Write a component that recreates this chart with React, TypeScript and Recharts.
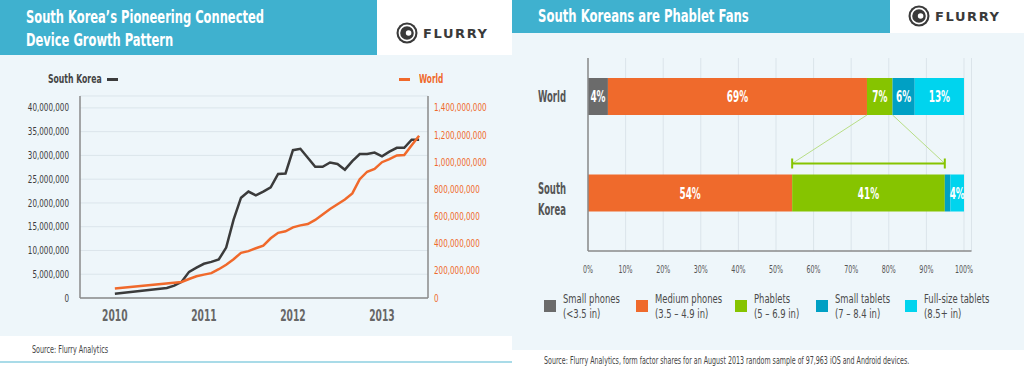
import React from "react";
import {
	LineChart,
	Line,
	XAxis,
	YAxis,
	CartesianGrid,
	BarChart,
	Bar,
	LabelList,
} from "recharts";

// ---- left chart: connected devices, month index from Jan 2010 ----
const skMonths = [0, 7, 8, 9, 10, 11, 12, 13, 14, 15, 16, 17, 18, 19, 20, 21, 22, 23, 24, 25, 26, 27, 28, 29, 30, 31, 32, 33, 34, 35, 36, 37, 38, 39, 40, 41];
const skDevices = [0.9, 2.1, 2.6, 3.4, 5.5, 6.4, 7.2, 7.6, 8.1, 10.6, 16.5, 21.1, 22.4, 21.6, 22.4, 23.3, 26.1, 26.2, 31.1, 31.4, 29.5, 27.6, 27.6, 28.5, 28.2, 27.0, 28.8, 30.3, 30.3, 30.6, 29.8, 30.8, 31.6, 31.6, 33.3, 33.3];
const worldMonths = [0, 9, 10, 11, 12, 13, 14, 15, 16, 17, 18, 19, 20, 21, 22, 23, 24, 25, 26, 27, 28, 29, 30, 31, 32, 33, 34, 35, 36, 37, 38, 39, 40, 41];
const worldDevices = [70, 118, 140, 160, 172, 183, 212, 245, 285, 333, 345, 366, 385, 440, 480, 491, 520, 535, 545, 575, 615, 655, 690, 725, 770, 875, 930, 950, 1000, 1023, 1050, 1053, 1125, 1195];
const yearTicks = [0, 12, 24, 36];
const yearLabels = ["2010", "2011", "2012", "2013"];
const leftTicks = [0, 5e6, 10e6, 15e6, 20e6, 25e6, 30e6, 35e6, 40e6];
const rightTicks = [0, 2e8, 4e8, 6e8, 8e8, 10e8, 12e8, 14e8];

// ---- right chart: form factor shares (%) ----
const regions = ["World", "South Korea"];
const smallPhones = [5.3, 0];
const mediumPhones = [68.9, 54.3];
const phablets = [6.8, 40.6];
const smallTablets = [5.9, 1.5];
const fullSizeTablets = [13.1, 3.6];
const smallPhoneLabels = ["4%", ""];
const mediumPhoneLabels = ["69%", "54%"];
const phabletLabels = ["7%", "41%"];
const smallTabletLabels = ["6%", ""];
const fullSizeLabels = ["13%", "4%"];
const shareTicks = [0, 10, 20, 30, 40, 50, 60, 70, 80, 90, 100];
const legendNames = ["Small phones", "Medium phones", "Phablets", "Small tablets", "Full-size tablets"];
const legendSizes = ["(<3.5 in)", "(3.5 – 4.9 in)", "(5 – 6.9 in)", "(7 – 8.4 in)", "(8.5+ in)"];

const FONT = '"DejaVu Sans Condensed", "DejaVu Sans", sans-serif';
const TEAL = "#3fb1cf";
const PANEL = "#eef6fa";
const SK_COLOR = "#3b3b3b";
const WORLD_COLOR = "#f0692b";
const SEGMENT_COLORS = ["#6b6b6b", "#ef6a2c", "#86c400", "#00a0c4", "#00d4ee"];

const skData = skMonths.map((month, i) => ({ month, value: skDevices[i] * 1e6 }));
const worldData = worldMonths.map((month, i) => ({ month, value: worldDevices[i] * 1e6 }));

const shareData = regions.map((region, i) => ({
	region,
	small: smallPhones[i],
	medium: mediumPhones[i],
	phablet: phablets[i],
	smallTab: smallTablets[i],
	fullTab: fullSizeTablets[i],
	smallLabel: smallPhoneLabels[i],
	mediumLabel: mediumPhoneLabels[i],
	phabletLabel: phabletLabels[i],
	smallTabLabel: smallTabletLabels[i],
	fullTabLabel: fullSizeLabels[i],
}));

const fmtNum = (v: number) => v.toLocaleString("en-US");

// the source font is a narrow DIN-like face, so DejaVu gets squeezed horizontally
function SqText({
	x,
	y,
	k,
	anchor = "start",
	fill,
	size,
	weight = 400,
	children,
}: {
	x: number;
	y: number;
	k: number;
	anchor?: string;
	fill: string;
	size: number;
	weight?: number;
	children: React.ReactNode;
}) {
	return (
		<text
			transform={`translate(${x},${y}) scale(${k},1)`}
			textAnchor={anchor}
			fill={fill}
			fontSize={size}
			fontWeight={weight}
			fontFamily={FONT}
		>
			{children}
		</text>
	);
}

function Squeeze({ k, style, children }: { k: number; style: React.CSSProperties; children: React.ReactNode }) {
	return (
		<div
			style={{
				position: "absolute",
				whiteSpace: "nowrap",
				transform: `scaleX(${k})`,
				transformOrigin: "0 0",
				fontFamily: FONT,
				...style,
			}}
		>
			{children}
		</div>
	);
}

const LeftTick = (props: any) => (
	<SqText x={props.x} y={props.y + 3.6} k={0.8} anchor="end" fill="#3c3c3c" size={10}>
		{fmtNum(props.payload.value)}
	</SqText>
);

const RightTick = (props: any) => (
	<SqText x={props.x} y={props.y + 3.6} k={0.8} anchor="start" fill="#ee6a2a" size={10}>
		{fmtNum(props.payload.value)}
	</SqText>
);

const YearTick = (props: any) => (
	<SqText x={props.x} y={props.y + 22.5} k={0.68} anchor="middle" fill="#666" size={15} weight={700}>
		{yearLabels[yearTicks.indexOf(props.payload.value)]}
	</SqText>
);

const ShareTick = (props: any) => (
	<SqText x={props.x} y={props.y + 22} k={0.64} anchor="middle" fill="#555" size={11}>
		{`${props.payload.value}%`}
	</SqText>
);

const RegionTick = (props: any) => {
	const { x, y, payload } = props;
	const words = String(payload.value).split(" ");
	if (words.length === 1) {
		return (
			<SqText x={x} y={y + 5.5} k={0.63} anchor="end" fill="#555" size={15} weight={700}>
				{words[0]}
			</SqText>
		);
	}
	return (
		<g>
			<SqText x={x} y={y + 1} k={0.63} anchor="end" fill="#555" size={15} weight={700}>
				{words[0]}
			</SqText>
			<SqText x={x} y={y + 22} k={0.63} anchor="end" fill="#555" size={15} weight={700}>
				{words[1]}
			</SqText>
		</g>
	);
};

const renderSegmentLabel = (props: any) => {
	const { x, y, width, height, value } = props;
	if (!value) return null;
	return (
		<SqText
			x={Number(x) + Number(width) / 2}
			y={Number(y) + Number(height) / 2 + 5.5}
			k={0.66}
			anchor="middle"
			fill="#fff"
			size={15}
			weight={700}
		>
			{value}
		</SqText>
	);
};

// world phablet geometry is kept so the South Korea bar can draw the bracket
const phabletGeom: { world?: { x: number; y: number; width: number; height: number } } = {};

const PhabletShape = (props: any) => {
	const { x, y, width, height, fill, payload } = props;
	const isWorld = payload && payload.region === "World";
	if (isWorld) phabletGeom.world = { x, y, width, height };
	const w = phabletGeom.world;
	const by = y - 11;
	return (
		<g>
			<rect x={x} y={y} width={width} height={height} fill={fill} />
			{!isWorld && w && (
				<g>
					<line x1={w.x} y1={w.y + w.height} x2={x} y2={by} stroke="#b8de86" strokeWidth={1} />
					<line x1={w.x + w.width} y1={w.y + w.height} x2={x + width} y2={by} stroke="#b8de86" strokeWidth={1} />
					<line x1={x} y1={by} x2={x + width} y2={by} stroke="#86c400" strokeWidth={2} />
					<line x1={x} y1={by - 5} x2={x} y2={by + 5} stroke="#86c400" strokeWidth={2} />
					<line x1={x + width} y1={by - 5} x2={x + width} y2={by + 5} stroke="#86c400" strokeWidth={2} />
				</g>
			)}
		</g>
	);
};

function FlurryLogo({ left, top }: { left: number; top: number }) {
	return (
		<div style={{ position: "absolute", left, top, display: "flex", alignItems: "center" }}>
			<svg width={22} height={22} viewBox="0 0 22 22">
				<circle cx={11} cy={11} r={10.5} fill="#3a3a3a" />
				<circle cx={11} cy={11} r={7.6} fill="none" stroke="#fff" strokeWidth={1.6} />
				<circle cx={11} cy={11} r={5} fill="#3a3a3a" />
				<circle cx={12.6} cy={11} r={2.8} fill="#fff" />
			</svg>
			<span
				style={{
					fontFamily: '"DejaVu Sans", sans-serif',
					fontWeight: 900,
					fontSize: 13,
					letterSpacing: 1.6,
					color: "#3a3a3a",
					marginLeft: 5,
				}}
			>
				FLURRY
			</span>
		</div>
	);
}

const titleStyle: React.CSSProperties = {
	color: "#fff",
	fontWeight: 700,
	fontSize: 18,
	lineHeight: "23px",
};

export default function App() {
	return (
		<div
			style={{
				position: "fixed",
				left: 0,
				top: 0,
				width: 1024,
				height: 367,
				overflow: "hidden",
				background: "#fff",
				fontFamily: FONT,
			}}
		>
			{/* left panel */}
			<div style={{ position: "absolute", left: 0, top: 0, width: 377, height: 55, background: TEAL }} />
			<div style={{ position: "absolute", left: 0, top: 55, width: 512, height: 281, background: PANEL }} />
			<Squeeze k={0.71} style={{ ...titleStyle, left: 26, top: 5 }}>
				South Korea’s Pioneering Connected
				<br />
				Device Growth Pattern
			</Squeeze>
			<FlurryLogo left={396} top={22} />
			<Squeeze k={0.66} style={{ left: 48, top: 71, fontSize: 13, lineHeight: "15px", fontWeight: 700, color: "#444" }}>
				South Korea
			</Squeeze>
			<div style={{ position: "absolute", left: 107, top: 78, width: 11, height: 3, background: SK_COLOR }} />
			<div style={{ position: "absolute", left: 399, top: 78, width: 11, height: 3, background: WORLD_COLOR }} />
			<Squeeze k={0.63} style={{ left: 419, top: 71, fontSize: 13, lineHeight: "15px", fontWeight: 700, color: WORLD_COLOR }}>
				World
			</Squeeze>
			<div style={{ position: "absolute", left: 0, top: 0 }}>
				<LineChart width={512} height={336} margin={{ top: 96, right: 0, bottom: 8, left: 0 }}>
					<CartesianGrid yAxisId="left" vertical={false} stroke="#dbe5eb" strokeWidth={1} />
					<XAxis
						type="number"
						dataKey="month"
						domain={[-4.7, 42.2]}
						allowDataOverflow
						ticks={yearTicks}
						axisLine={{ stroke: "#8a8a8a", strokeWidth: 1.5 }}
						tickLine={false}
						tickSize={0}
						tickMargin={0}
						height={30}
						tick={<YearTick />}
					/>
					<YAxis
						yAxisId="left"
						domain={[0, 42.5e6]}
						allowDataOverflow
						ticks={leftTicks}
						width={80}
						axisLine={{ stroke: "#8a8a8a", strokeWidth: 1.5 }}
						tickLine={false}
						tickSize={0}
						tickMargin={11}
						tick={<LeftTick />}
					/>
					<YAxis
						yAxisId="right"
						orientation="right"
						domain={[0, 1487.5e6]}
						allowDataOverflow
						ticks={rightTicks}
						width={84}
						axisLine={{ stroke: "#8a8a8a", strokeWidth: 1.5 }}
						tickLine={false}
						tickSize={0}
						tickMargin={6}
						tick={<RightTick />}
					/>
					<Line
						yAxisId="left"
						data={skData}
						dataKey="value"
						type="linear"
						stroke={SK_COLOR}
						strokeWidth={2.5}
						dot={false}
						isAnimationActive={false}
					/>
					<Line
						yAxisId="right"
						data={worldData}
						dataKey="value"
						type="linear"
						stroke={WORLD_COLOR}
						strokeWidth={2.5}
						dot={false}
						isAnimationActive={false}
					/>
				</LineChart>
			</div>
			<Squeeze k={0.65} style={{ left: 32, top: 343, fontSize: 11, lineHeight: "13px", color: "#444" }}>
				Source: Flurry Analytics
			</Squeeze>
			<div style={{ position: "absolute", left: 0, top: 361, width: 512, height: 2, background: "#a9dbe8" }} />

			{/* right panel */}
			<div style={{ position: "absolute", left: 512, top: 0, width: 378, height: 33, background: TEAL }} />
			<div style={{ position: "absolute", left: 512, top: 33, width: 512, height: 317, background: PANEL }} />
			<Squeeze k={0.72} style={{ ...titleStyle, left: 538, top: 4 }}>
				South Koreans are Phablet Fans
			</Squeeze>
			<FlurryLogo left={908} top={5} />
			<div style={{ position: "absolute", left: 512, top: 0 }}>
				<BarChart
					layout="vertical"
					width={512}
					height={290}
					data={shareData}
					margin={{ top: 58, right: 52.5, bottom: 9, left: 0 }}
				>
					<CartesianGrid horizontal={false} stroke="#dbe4ea" strokeWidth={1} />
					<XAxis
						type="number"
						domain={[0, 102]}
						ticks={shareTicks}
						axisLine={{ stroke: "#8a8a8a", strokeWidth: 1.5 }}
						tickLine={false}
						tickSize={0}
						tickMargin={0}
						height={30}
						tick={<ShareTick />}
					/>
					<YAxis
						type="category"
						dataKey="region"
						width={76}
						padding={{ top: -10, bottom: 10 }}
						axisLine={{ stroke: "#8a8a8a", strokeWidth: 1.5 }}
						tickLine={false}
						tickSize={0}
						tickMargin={22}
						tick={<RegionTick />}
					/>
					<Bar dataKey="small" stackId="s" fill={SEGMENT_COLORS[0]} barSize={37} isAnimationActive={false}>
						<LabelList dataKey="smallLabel" content={renderSegmentLabel} />
					</Bar>
					<Bar dataKey="medium" stackId="s" fill={SEGMENT_COLORS[1]} barSize={37} isAnimationActive={false}>
						<LabelList dataKey="mediumLabel" content={renderSegmentLabel} />
					</Bar>
					<Bar
						dataKey="phablet"
						stackId="s"
						fill={SEGMENT_COLORS[2]}
						barSize={37}
						shape={PhabletShape}
						isAnimationActive={false}
					>
						<LabelList dataKey="phabletLabel" content={renderSegmentLabel} />
					</Bar>
					<Bar dataKey="smallTab" stackId="s" fill={SEGMENT_COLORS[3]} barSize={37} isAnimationActive={false}>
						<LabelList dataKey="smallTabLabel" content={renderSegmentLabel} />
					</Bar>
					<Bar dataKey="fullTab" stackId="s" fill={SEGMENT_COLORS[4]} barSize={37} isAnimationActive={false}>
						<LabelList dataKey="fullTabLabel" content={renderSegmentLabel} />
					</Bar>
				</BarChart>
			</div>
			{legendNames.map((name, i) => (
				<div
					key={name}
					style={{
						position: "absolute",
						left: [544, 636, 735, 816, 905][i],
						top: 291,
						height: 30,
						display: "flex",
						alignItems: "center",
					}}
				>
					<div style={{ width: 12, height: 12, background: SEGMENT_COLORS[i] }} />
					<Squeeze k={0.72} style={{ left: 19, top: 0, fontSize: 13, lineHeight: "15px", color: "#4a4a4a" }}>
						{name}
						<br />
						{legendSizes[i]}
					</Squeeze>
				</div>
			))}
			<Squeeze k={0.64} style={{ left: 544, top: 355, fontSize: 11, lineHeight: "12px", color: "#444" }}>
				Source: Flurry Analytics, form factor shares for an August 2013 random sample of 97,963 iOS and Android devices.
			</Squeeze>
		</div>
	);
}
